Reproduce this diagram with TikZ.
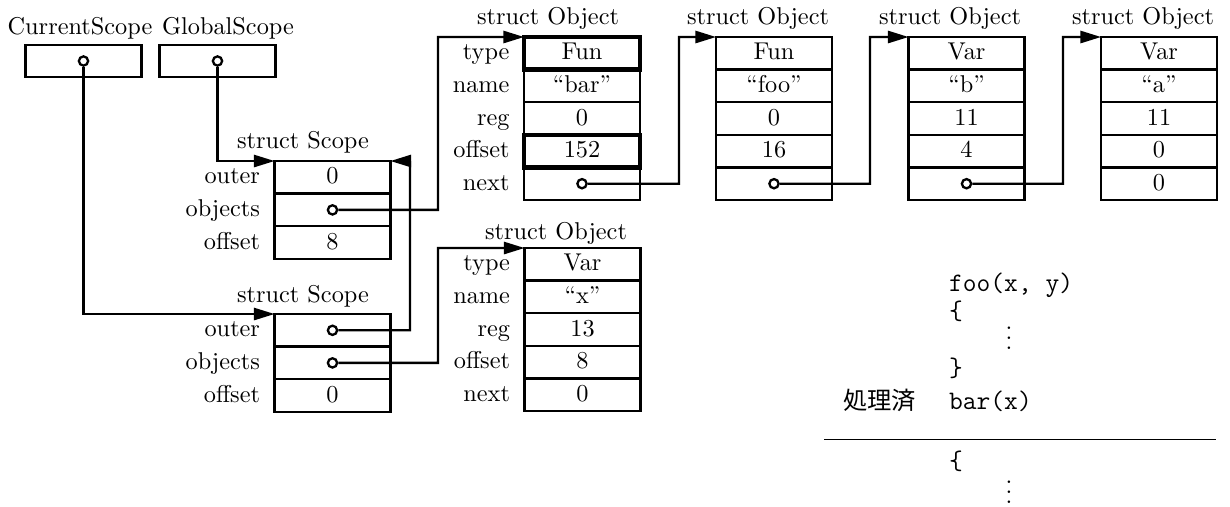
\documentclass[tikz,border=0pt]{standalone}
\usepackage{fontspec}
\newfontfamily\cjk{Noto Sans CJK JP}
\usetikzlibrary{arrows.meta}

\tikzset{
  cell/.style={draw, minimum width=47.7pt, minimum height=13.4pt, inner sep=0pt,
    outer sep=0pt, text height=1.5ex, text depth=.25ex},
  fld/.style={anchor=east, inner sep=0pt, xshift=-5.5pt, text height=1.5ex, text depth=.25ex},
  ptr/.style={draw, circle, fill=white, minimum size=3.8pt, inner sep=0pt},
  hl/.style={line width=1.8pt},
  ttl/.style={anchor=base, inner sep=0pt},
  code/.style={anchor=base west, inner sep=0pt, font=\ttfamily\fontsize{11}{13}\selectfont},
}

\begin{document}
\begin{tikzpicture}[x=0.4115pt, y=-0.4115pt, line width=0.95pt,
    >={Triangle[length=8.5pt,width=5pt]}]
  \useasboundingbox (0,0) rectangle (1230,506);

  % pointer variables
  \node[ttl] (curt) at (80,35) {CurrentScope};
  \node[ttl] (glot) at (228,35) {GlobalScope};
  \node[cell] (cur) at (83.5,61) {};
  \node[cell] (glo) at (217.5,61) {};
  \node[ptr] (curp) at (cur) {};
  \node[ptr] (glop) at (glo) {};

  % struct Scope (global)
  \node[ttl] (s1t) at (303,148) {struct Scope};
  \foreach \v [count=\i] in {0,{},8}
    \node[cell] (s1-\i) at (332.5,{161+32.6*(\i-.5)}) {\v};
  \foreach \f [count=\i] in {outer,objects,offset}
    \node[fld] (s1f\i) at (s1-\i.west) {\f};
  \node[ptr] (s1p) at (s1-2) {};

  % struct Scope (current)
  \node[ttl] (s2t) at (303,302) {struct Scope};
  \foreach \v [count=\i] in {{},{},0}
    \node[cell] (s2-\i) at (332.5,{314+32.6*(\i-.5)}) {\v};
  \foreach \f [count=\i] in {outer,objects,offset}
    \node[fld] (s2f\i) at (s2-\i.west) {\f};
  \node[ptr] (s2o) at (s2-1) {};
  \node[ptr] (s2p) at (s2-2) {};

  % object list of the global scope
  \node[ttl] (o1t) at (548,25) {struct Object};
  \foreach \v [count=\i] in {Fun,“bar”,0,152,{}}
    \node[cell] (o1-\i) at (582,{37+32.6*(\i-.5)}) {\v};
  \foreach \f [count=\i] in {type,name,reg,offset,next}
    \node[fld] (o1f\i) at (o1-\i.west) {\f};
  \node[ptr] (o1p) at (o1-5) {};
  \draw[hl] (o1-1.north west) rectangle (o1-1.south east);
  \draw[hl] (o1-4.north west) rectangle (o1-4.south east);

  \node[ttl] (o2t) at (758,25) {struct Object};
  \foreach \v [count=\i] in {Fun,“foo”,0,16,{}}
    \node[cell] (o2-\i) at (774,{37+32.6*(\i-.5)}) {\v};
  \node[ptr] (o2p) at (o2-5) {};

  \node[ttl] (o3t) at (950,25) {struct Object};
  \foreach \v [count=\i] in {Var,“b”,11,4,{}}
    \node[cell] (o3-\i) at (966.5,{37+32.6*(\i-.5)}) {\v};
  \node[ptr] (o3p) at (o3-5) {};

  \node[ttl] (o4t) at (1143,25) {struct Object};
  \foreach \v [count=\i] in {Var,“a”,11,0,0}
    \node[cell] (o4-\i) at (1159,{37+32.6*(\i-.5)}) {\v};

  % object list of the current scope
  \node[ttl] (oxt) at (556,239) {struct Object};
  \foreach \v [count=\i] in {Var,“x”,13,8,0}
    \node[cell] (ox-\i) at (582.5,{248+32.6*(\i-.5)}) {\v};
  \foreach \f [count=\i] in {type,name,reg,offset,next}
    \node[fld] (oxf\i) at (ox-\i.west) {\f};

  % links
  \coordinate (b1) at (438,37);
  \coordinate (b2) at (679,37);
  \coordinate (b3) at (870,37);
  \coordinate (b4) at (1063,37);
  \coordinate (b5) at (410,161);
  \coordinate (b6) at (438,248);
  \draw[->] (glop) |- (s1-1.north west);
  \draw[->] (curp) |- (s2-1.north west);
  \draw[->] (s1p) -| (b1) -- (o1-1.north west);
  \draw[->] (o1p) -| (b2) -- (o2-1.north west);
  \draw[->] (o2p) -| (b3) -- (o3-1.north west);
  \draw[->] (o3p) -| (b4) -- (o4-1.north west);
  \draw[->] (s2o) -| (b5) -- (s1-1.north east);
  \draw[->] (s2p) -| (b6) -- (ox-1.north west);

  % source being parsed
  \node[code] (l1) at (948,291) {foo(x, y)};
  \node[code] (l2) at (948,319) {\{};
  \node (l3) at (1009,331) {$\vdots$};
  \node[code] (l4) at (948,376) {\}};
  \node[ttl, anchor=base west, font=\cjk] (done) at (842,409) {処理済};
  \node[code] (l5) at (948,409) {bar(x)};
  \draw[line width=0.4pt] (824,439) -- (1216,439);
  \node[code] (l6) at (948,469) {\{};
  \node (l7) at (1009,485) {$\vdots$};
\end{tikzpicture}
\end{document}
